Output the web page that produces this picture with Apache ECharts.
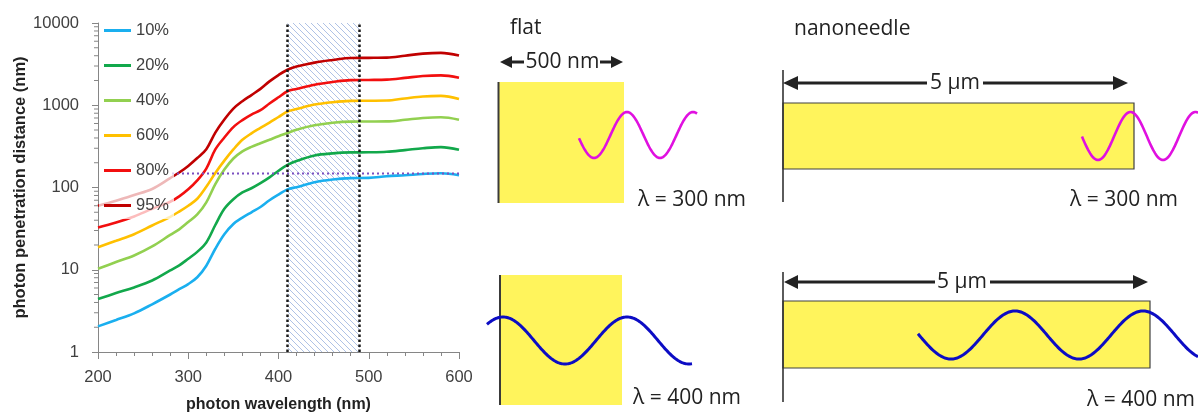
<!DOCTYPE html>
<html>
<head>
<meta charset="utf-8">
<script src="https://cdn.jsdelivr.net/npm/echarts@6.0.0/dist/echarts.min.js"></script>
<style>html,body{margin:0;padding:0;background:#fff;}#c{width:1198px;height:418px;}</style>
</head>
<body>
<div id="c"></div>
<script>
// ---------------- data ----------------
const wavelengths = [200,220,240,260,280,290,300,310,320,330,340,350,360,370,380,390,400,410,420,440,460,480,500,520,540,560,580,600];
const p10 = [2.05,2.45,2.95,3.8,5.0,5.8,6.7,8.1,11.2,18,27,36,43,50,58,70,82,95,101,116,125,130,131,137,141,146,149,141];
const p20 = [4.4,5.2,6.1,7.4,9.8,11.3,13.6,16.5,21.5,35,55,72,87,98,113,133,160,188,210,245,260,267,268,272,285,300,310,287];
const p40 = [10.3,12.4,14.9,19.2,26.5,31,38,47,66,110,165,225,275,312,345,380,420,460,505,570,612,632,634,636,665,700,715,668];
const p60 = [18.8,22.5,27,34.5,44,51,60,73,102,150,212,290,380,455,530,615,720,840,900,1020,1090,1130,1135,1140,1210,1280,1300,1190];
const p80 = [32.6,37.5,44.5,55,67,78,95,122,170,290,405,543,660,770,870,1050,1250,1480,1580,1780,1920,2020,2030,2050,2150,2270,2310,2160];
const p95 = [60,69,81,96,130,152,183,228,292,465,670,910,1120,1330,1580,1950,2330,2700,2950,3300,3550,3760,3770,3790,4000,4240,4330,4020];
const seriesNames = ['10%','20%','40%','60%','80%','95%'];
const xTicks = [200,300,400,500,600];
const yTickLabels = ['1','10','100','1000','10000'];
const minorYTicks = [2,3,4,5,6,7,8,9,20,30,40,50,60,70,80,90,200,300,400,500,600,700,800,900,2000,3000,4000,5000,6000,7000,8000,9000];
const bandRange = [410, 490];
const thresholdLine = [[282,148],[600,148]];

// ---------------- styles ----------------
const colors = ['#1AAFEF','#12A84B','#92D050','#FFC000','#F20F0F','#C00000'];
const FONT = '"Liberation Sans", Arial, sans-serif';
const DFONT = '"Open Sans", "Liberation Sans", sans-serif';
const AX = '#868686';

function hatch(){
  const p = 6, c = document.createElement('canvas');
  c.width = p; c.height = p;
  const g = c.getContext('2d');
  g.fillStyle = '#ffffff'; g.fillRect(0,0,p,p);
  g.strokeStyle = '#AFC2E6'; g.lineWidth = 1;
  g.beginPath();
  g.moveTo(-1,-1); g.lineTo(p+1,p+1);
  g.moveTo(-1,p-1); g.lineTo(1,p+1);
  g.moveTo(p-1,-1); g.lineTo(p+1,1);
  g.stroke();
  return c;
}

const allSeries = [p10,p20,p40,p60,p80,p95];
const series = [];
series.push({
  name: 'band', type: 'line', data: [], silent: true, z: 1,
  markArea: { silent: true, itemStyle: { color: { image: hatch(), repeat: 'repeat' }, opacity: 1, borderWidth: 0 },
    data: [[{ xAxis: bandRange[0] }, { xAxis: bandRange[1] }]] }
});
allSeries.forEach((arr, i) => {
  series.push({
    name: seriesNames[i], type: 'line', smooth: 0.35, symbol: 'none',
    data: wavelengths.map((w, j) => [w, arr[j]]),
    lineStyle: { color: colors[i], width: 2.6 }, itemStyle: { color: colors[i] },
    z: 2, silent: true
  });
});
series.push({
  name: 'threshold', type: 'line', symbol: 'none', data: thresholdLine, z: 3, silent: true,
  lineStyle: { color: '#7B4FC0', width: 2, type: [2, 3] }
});
series.push({
  name: 'bandEdges', type: 'line', data: [], silent: true, z: 5,
  markLine: { silent: true, symbol: ['none','none'], label: { show: false },
    lineStyle: { color: '#1a1a1a', width: 2.5, type: [2.5, 2.5] },
    data: [{ xAxis: bandRange[0] }, { xAxis: bandRange[1] }] }
});
series.push({
  name: 'minorTicks', type: 'custom', silent: true, clip: false, z: 4,
  data: minorYTicks.map(v => [200, v]),
  renderItem: (params, api) => {
    const p = api.coord([200, api.value(1)]);
    return { type: 'line', shape: { x1: p[0] - 4, y1: p[1], x2: p[0], y2: p[1] }, style: { stroke: AX, lineWidth: 1 } };
  }
});

// ---------------- diagram graphics ----------------
const YEL = '#FFF45C', INK = '#222222';
function wave(x0, x1, mid, amp, period, peakX){
  const pts = [];
  for (let x = x0; x <= x1; x += 1) pts.push([x, mid - amp * Math.cos(2 * Math.PI * (x - peakX) / period)]);
  return pts;
}
function txt(text, x, y, align){
  return { type: 'text', x: x, y: y, z: 20,
    style: { text: text, font: '21px ' + DFONT, fill: INK, align: align || 'left', verticalAlign: 'middle', textAlign: align || 'left', textVerticalAlign: 'middle' } };
}
function seg(x1, y1, x2, y2, w, c){
  return { type: 'line', z: 15, shape: { x1, y1, x2, y2 }, style: { stroke: c || INK, lineWidth: w } };
}
function tri(pts){
  return { type: 'polygon', z: 15, shape: { points: pts }, style: { fill: INK } };
}
const graphics = [
  // flat, top
  { type: 'rect', z: 10, shape: { x: 499, y: 82, width: 125, height: 121 }, style: { fill: YEL } },
  seg(498.5, 82, 498.5, 203, 2, '#3a3a3a'),
  { type: 'polyline', z: 16, shape: { points: wave(579, 697, 135, 23, 66, 627) }, style: { stroke: '#E010E0', lineWidth: 2.6, fill: null } },
  txt('flat', 510, 28),
  txt('500 nm', 562.5, 62, 'center'),
  seg(510, 62, 524, 62, 3), tri([[500,62],[512,56],[512,68]]),
  seg(600, 62, 613, 62, 3), tri([[623,62],[611,56],[611,68]]),
  txt('λ = 300 nm', 638, 200),
  // flat, bottom
  { type: 'rect', z: 10, shape: { x: 500, y: 275, width: 122, height: 130 }, style: { fill: YEL } },
  seg(500, 275, 500, 405, 2, '#3a3a3a'),
  { type: 'polyline', z: 16, shape: { points: wave(487, 692, 340.5, 23.5, 124, 503) }, style: { stroke: '#0C0CC4', lineWidth: 3, fill: null } },
  txt('λ = 400 nm', 633, 398),
  // nanoneedle, top
  txt('nanoneedle', 794, 29),
  { type: 'rect', z: 10, shape: { x: 783, y: 103, width: 351, height: 66 }, style: { fill: YEL, stroke: '#404040', lineWidth: 1.2 } },
  seg(783, 70, 783, 202, 1.6, '#333'),
  seg(795, 83, 927, 83, 3), seg(983, 83, 1116, 83, 3),
  tri([[783,83],[798,76],[798,90]]), tri([[1128,83],[1113,76],[1113,90]]),
  txt('5 µm', 955, 83, 'center'),
  { type: 'polyline', z: 16, shape: { points: wave(1082, 1198, 136, 24, 65, 1130.5) }, style: { stroke: '#E010E0', lineWidth: 2.6, fill: null } },
  txt('λ = 300 nm', 1070, 200),
  // nanoneedle, bottom
  { type: 'rect', z: 10, shape: { x: 783, y: 301, width: 367, height: 67 }, style: { fill: YEL, stroke: '#404040', lineWidth: 1.2 } },
  seg(783, 272, 783, 402, 1.6, '#333'),
  seg(795, 282, 935, 282, 3), seg(990, 282, 1136, 282, 3),
  tri([[784,282],[798,275],[798,289]]), tri([[1148,282],[1133,275],[1133,289]]),
  txt('5 µm', 962, 282, 'center'),
  { type: 'polyline', z: 16, shape: { points: wave(918, 1198, 335, 24, 128, 1015) }, style: { stroke: '#0C0CC4', lineWidth: 3, fill: null } },
  txt('λ = 400 nm', 1087, 400)
];

// ---------------- chart ----------------
const chart = echarts.init(document.getElementById('c'), null, { renderer: 'canvas' });
chart.setOption({
  animation: false,
  backgroundColor: '#ffffff',
  grid: { left: 98, right: 739, top: 23, bottom: 62 },
  legend: {
    data: seriesNames, orient: 'vertical', left: 99, top: 17,
    padding: [5, 5, 5, 5], itemWidth: 27, itemHeight: 3, itemGap: 18,
    icon: 'rect',
    backgroundColor: 'rgba(255,255,255,0.72)',
    textStyle: { fontFamily: FONT, fontSize: 16.5, color: '#404040', lineHeight: 16.5 },
    selectedMode: false
  },
  xAxis: {
    type: 'value', min: xTicks[0], max: xTicks[xTicks.length - 1], interval: 100,
    axisLine: { lineStyle: { color: AX, width: 1 } },
    axisTick: { show: true, length: 7, lineStyle: { color: AX } },
    minorTick: { show: true, splitNumber: 5, length: 4, lineStyle: { color: AX } },
    splitLine: { show: false }, minorSplitLine: { show: false },
    axisLabel: { fontFamily: FONT, fontSize: 16.5, color: '#404040', margin: 17 },
    name: 'photon wavelength (nm)', nameLocation: 'middle', nameGap: 45,
    nameTextStyle: { fontFamily: FONT, fontSize: 16, fontWeight: 'bold', color: '#222' }
  },
  yAxis: {
    type: 'log', logBase: 10, min: 1, max: 10000,
    axisLine: { show: true, lineStyle: { color: AX, width: 1 } },
    axisTick: { show: true, length: 6, lineStyle: { color: AX } },
    splitLine: { show: false },
    axisLabel: { fontFamily: FONT, fontSize: 16.5, color: '#404040', margin: 19,
      formatter: v => yTickLabels[Math.round(Math.log10(v))] },
    name: 'photon penetration distance (nm)', nameLocation: 'middle', nameGap: 69,
    nameTextStyle: { fontFamily: FONT, fontSize: 16.5, fontWeight: 'bold', color: '#222' }
  },
  series: series,
  graphic: { elements: graphics }
});
</script>
</body>
</html>
